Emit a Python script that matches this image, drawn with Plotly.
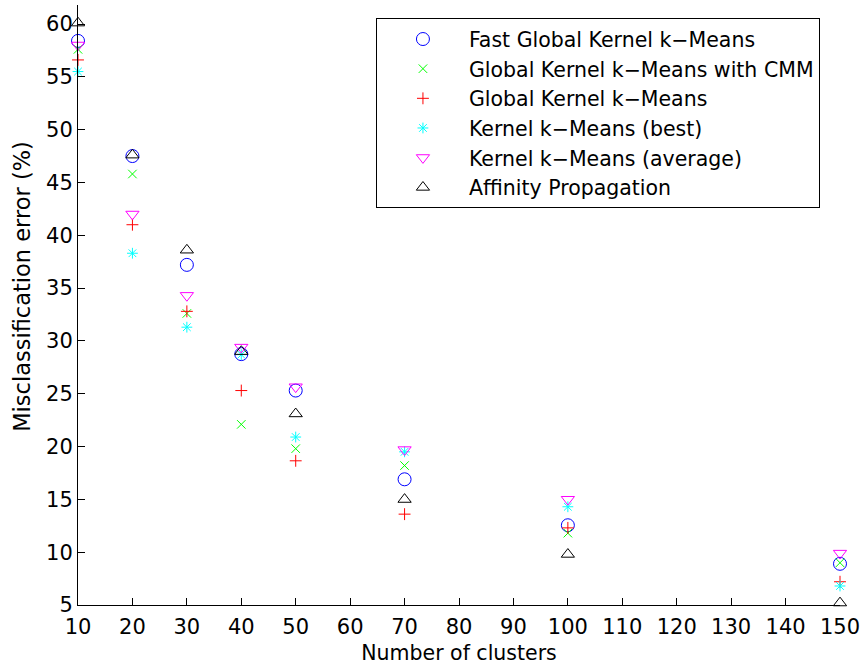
import plotly.graph_objects as go

clusters = [10, 20, 30, 40, 50, 70, 100, 150]
fast_global_kkm = [58.4, 47.5, 37.2, 28.75, 25.3, 16.9, 12.55, 8.9]
global_kkm_cmm = [57.6, 45.8, 32.6, 22.1, 19.8, 18.2, 11.8, 9.0]
global_kkm = [56.6, 41.0, 32.8, 25.3, 18.65, 13.6, 12.3, 7.2]
kkm_best = [55.5, 38.3, 31.3, 28.7, 20.9, 19.5, 14.3, 6.8]
kkm_average = [58.0, 42.0, 34.3, 29.4, 25.65, 19.7, 15.0, 9.9]
affinity_prop = [60.1, 47.6, 38.6, 29.0, 23.1, 15.0, 9.8, 5.2]

x_ticks = list(range(10, 151, 10))
y_ticks = list(range(5, 61, 5))

series = [
    ("Fast Global Kernel k\u2212Means", fast_global_kkm, "circle-open", "#0000ff", 13),
    ("Global Kernel k\u2212Means with CMM", global_kkm_cmm, "x-thin-open", "#00ff00", 8.5),
    ("Global Kernel k\u2212Means", global_kkm, "cross-thin-open", "#ff0000", 8.5),
    ("Kernel k\u2212Means (best)", kkm_best, "asterisk-open", "#00ffff", 9),
    ("Kernel k\u2212Means (average)", kkm_average, "triangle-down-open", "#ff00ff", 11.5),
    ("Affinity Propagation", affinity_prop, "triangle-up-open", "#000000", 11.5),
]

FONT = "DejaVu Sans, Verdana, sans-serif"

fig = go.Figure()
for name, vals, sym, col, sz in series:
    fig.add_trace(go.Scatter(
        x=clusters, y=vals, mode="markers", name=name,
        marker=dict(symbol=sym, color=col, size=sz, line=dict(color=col, width=1)),
        cliponaxis=False,
    ))

axis_common = dict(
    showline=True, linecolor="black", linewidth=1, mirror=False,
    ticks="inside", ticklen=7, tickcolor="black", tickwidth=1,
    showgrid=False, zeroline=False, automargin=False,
    tickfont=dict(family=FONT, size=21, color="black"),
)

fig.update_layout(
    width=863, height=667, autosize=False,
    margin=dict(l=78, r=23, t=5, b=62),
    paper_bgcolor="white", plot_bgcolor="white",
    font=dict(family=FONT, size=21, color="black"),
    xaxis=dict(range=[10, 150], tickvals=x_ticks, ticklabelstandoff=3,
               title=dict(text="Number of clusters", font=dict(family=FONT, size=20.5), standoff=7),
               **axis_common),
    yaxis=dict(range=[5, 61.8], tickvals=y_ticks, **axis_common),
    legend=dict(x=0.391, y=0.978, xanchor="left", yanchor="top",
                bordercolor="black", borderwidth=1, bgcolor="white",
                font=dict(family=FONT, size=20.5, color="black"),
                itemwidth=82, tracegroupgap=0),
    showlegend=True,
    annotations=[dict(
        text="Misclassification error (%)", textangle=-90,
        xref="paper", yref="paper", x=-0.0735, y=0.532,
        xanchor="center", yanchor="middle", showarrow=False,
        font=dict(family=FONT, size=22.5, color="black"),
    )],
)

fig.write_html(
    "out.html",
    config={"displayModeBar": False},
    post_script="document.body.style.margin='0';document.body.style.overflow='hidden';",
)
